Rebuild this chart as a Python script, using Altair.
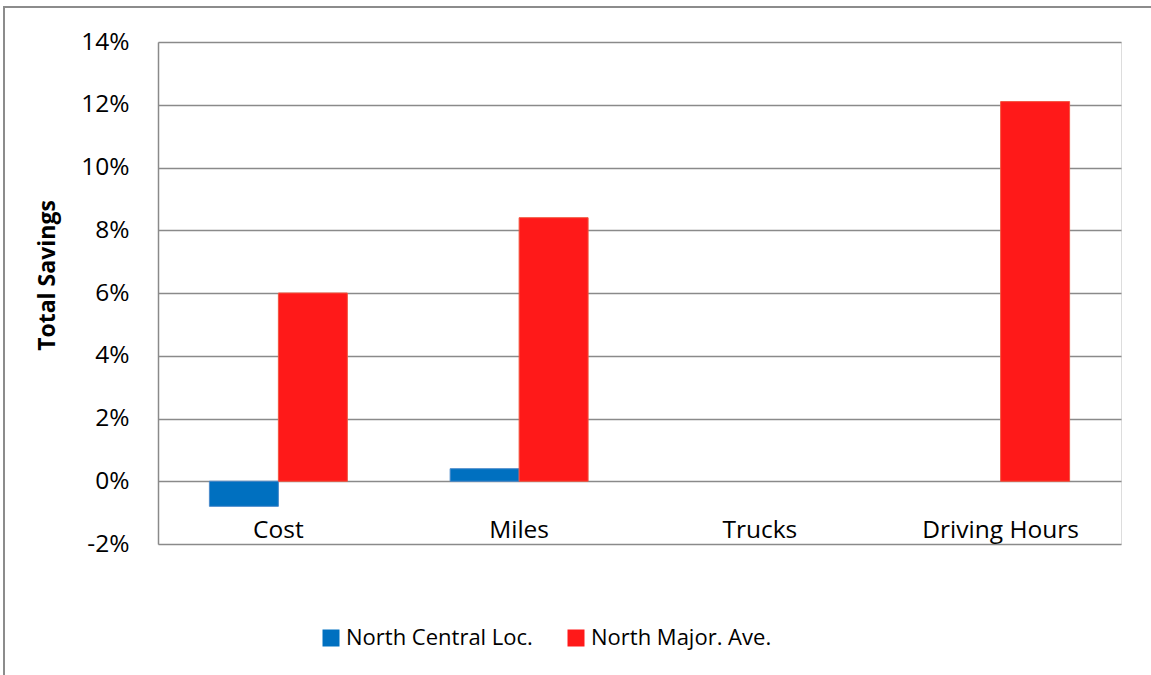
import altair as alt
import pandas as pd

categories = ["Cost", "Miles", "Trucks", "Driving Hours"]
series_names = ["North Central Loc.", "North Major. Ave."]
north_central = [-0.008, 0.004, 0.0, 0.0]
north_major = [0.060, 0.084, 0.0, 0.121]
y_ticks = [-0.02, 0.0, 0.02, 0.04, 0.06, 0.08, 0.10, 0.12, 0.14]
fill_colors = ["#0070C0", "#FF1919"]
edge_colors = ["#4A8ACB", "#F2553F"]

rows = []
for c, a, b in zip(categories, north_central, north_major):
    rows.append({"category": c, "series": series_names[0], "value": a})
    rows.append({"category": c, "series": series_names[1], "value": b})
df = pd.DataFrame(rows)

W, H = 963, 502
FONT = "Open Sans"
GRID = "#8a8a8a"

bars = alt.Chart(df).transform_filter("datum.value != 0").mark_bar(strokeWidth=1).encode(
    x=alt.X(
        "category:N",
        sort=categories,
        scale=alt.Scale(domain=categories, paddingInner=0.427, paddingOuter=0.2135),
        axis=alt.Axis(
            title=None, labelAngle=0, domain=False, ticks=False, tickSize=0,
            labelPadding=-7, labelBaseline="alphabetic", labelFontSize=24.5,
            labelFont=FONT, labelColor="black", grid=False, labelLimit=400,
        ),
    ),
    xOffset=alt.XOffset(
        "series:N", sort=series_names,
        scale=alt.Scale(domain=series_names, paddingInner=0, paddingOuter=0),
    ),
    y=alt.Y(
        "value:Q",
        scale=alt.Scale(domain=[-0.02, 0.14], nice=False, zero=False),
        axis=alt.Axis(
            values=y_ticks,
            labelExpr="round(datum.value * 100) + '%'",
            title="Total Savings",
            titleFont=FONT, titleFontSize=23, titleFontWeight="bold", titleColor="black",
            titleAngle=270, titleX=-111, titleY=233, titleAlign="center", titleBaseline="middle",
            labelFont=FONT, labelFontSize=24.5, labelColor="black", labelPadding=29,
            ticks=False, tickSize=0,
            domain=True, domainColor=GRID, domainWidth=1.5,
            grid=True, gridColor=GRID, gridWidth=1.5,
        ),
    ),
    color=alt.Color(
        "series:N",
        scale=alt.Scale(domain=series_names, range=fill_colors),
        legend=alt.Legend(
            title=None, orient="none", legendX=162, legendY=585, direction="horizontal",
            symbolType="square", symbolSize=289, symbolStrokeWidth=0,
            labelFont=FONT, labelFontSize=22, labelColor="black", labelLimit=500,
            labelOffset=4, columnPadding=32, padding=0,
        ),
    ),
    stroke=alt.Stroke(
        "series:N",
        scale=alt.Scale(domain=series_names, range=edge_colors),
        legend=None,
    ),
)

frame = alt.Chart(pd.DataFrame({"k": [0]})).mark_rect(
    filled=False, stroke="#8c8c8c", strokeWidth=2
).encode(
    x=alt.value(-154), x2=alt.value(1050), y=alt.value(-35), y2=alt.value(660)
)

chart = alt.layer(frame, bars).properties(
    width=W, height=H,
    autosize=alt.AutoSizeParams(type="none"),
    padding={"left": 158, "top": 42, "right": 30, "bottom": 131},
).configure_view(stroke=None).configure(background="white")

chart.save("out.html", embed_options={"renderer": "svg", "actions": False})
